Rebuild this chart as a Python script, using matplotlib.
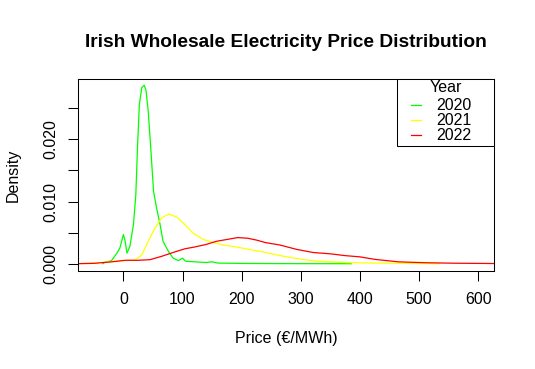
import matplotlib
matplotlib.use("Agg")
from matplotlib import pyplot as plt
from matplotlib.patches import Rectangle

plt.rcParams['font.family'] = ['Liberation Sans', 'DejaVu Sans']

# density curves
x_2020 = [-35, -31, -20, -11, -6, 0, 3, 6, 11, 17, 21, 24, 27, 31, 35, 38, 42, 47, 51, 56,
          62, 67, 76, 84, 93, 100, 105, 121, 140, 150, 160, 200, 250, 300, 385]
y_2020 = [0.0, 0.00022, 0.0005, 0.0017, 0.0025, 0.0047, 0.0036, 0.0017, 0.0028, 0.0063,
          0.0111, 0.0191, 0.0256, 0.0283, 0.0287, 0.028, 0.0245, 0.0175, 0.0116, 0.009,
          0.0063, 0.0036, 0.002, 0.0009, 0.0005, 0.0009, 0.0004, 0.0003, 0.0002, 0.0003,
          0.0001, 0.00005, 0.00002, 0.00001, 0.0]

x_2021 = [-80, -48, -14, 20, 31, 42, 53, 65, 77, 90, 104, 118, 135, 152, 170, 191, 212,
          236, 260, 282, 310, 332, 360, 388, 425, 480, 534]
y_2021 = [0.0, 0.0001, 0.0004, 0.0006, 0.0014, 0.0036, 0.0057, 0.0074, 0.008, 0.0075,
          0.0063, 0.0049, 0.0039, 0.0034, 0.003, 0.0027, 0.0023, 0.0019, 0.0014, 0.001,
          0.0006, 0.0004, 0.00025, 0.00016, 0.0001, 0.00005, 0.0]

x_2022 = [-80, -50, -20, 3, 25, 45, 65, 87, 104, 121, 140, 157, 175, 193, 210, 225, 240,
          265, 293, 321, 349, 375, 400, 425, 465, 510, 560, 630]
y_2022 = [0.0, 0.00006, 0.0003, 0.00055, 0.00055, 0.00065, 0.0012, 0.0019, 0.0024, 0.0027,
          0.0031, 0.0036, 0.0039, 0.0042, 0.0041, 0.0038, 0.0034, 0.003, 0.0023, 0.0018,
          0.0016, 0.0013, 0.0011, 0.0007, 0.0003, 0.00016, 0.00008, 0.00003]

years = ['2020', '2021', '2022']
colors = ['#00ff00', '#ffff00', '#ff0000']

x_ticks = [0, 100, 200, 300, 400, 500, 600]
y_ticks = [0.0, 0.005, 0.010, 0.015, 0.020, 0.025]
y_tick_labels = ['0.000', '', '0.010', '', '0.020', '']

fs = 11.5

fig = plt.figure(figsize=(5.35, 3.69), dpi=100)
ax = fig.add_axes([0.1464, 0.2656, 0.777, 0.5203])

lines = []
for xs, ys, c, lab in zip([x_2020, x_2021, x_2022], [y_2020, y_2021, y_2022], colors, years):
    l, = ax.plot(xs, ys, color=c, lw=0.9, label=lab)
    lines.append(l)

ax.set_xlim(-76.2, 626.5)
ax.set_ylim(-0.00117, 0.0297)

ax.set_xticks(x_ticks)
ax.set_yticks(y_ticks)
ax.set_yticklabels(y_tick_labels, rotation=90, va='center')
ax.tick_params(axis='both', direction='out', length=7.2, width=0.75, labelsize=fs, colors='black')
ax.tick_params(axis='x', pad=7.9)
ax.tick_params(axis='y', pad=7.2)
for sp in ax.spines.values():
    sp.set_linewidth(0.75)

ax.set_title('Irish Wholesale Electricity Price Distribution', fontsize=13.8,
             fontweight='bold', pad=23)
ax.set_xlabel('Price (€/MWh)', fontsize=fs)
ax.set_ylabel('Density', fontsize=fs)
ax.xaxis.set_label_coords(0.5, -0.3125)
ax.yaxis.set_label_coords(-0.138, 0.5)

# legend box in the top right corner
ax.add_patch(Rectangle((0.7676, 0.651), 0.2324, 0.349, transform=ax.transAxes,
                       facecolor='white', edgecolor='black', lw=0.75, zorder=5, clip_on=False))
ax.text(0.884, 0.934, 'Year', transform=ax.transAxes, ha='center', va='baseline',
        fontsize=fs, zorder=6)
leg = ax.legend(handles=lines, loc='upper left', bbox_to_anchor=(0.7996, 0.899),
                frameon=False, borderpad=0, borderaxespad=0, fontsize=fs,
                handlelength=0.63, handletextpad=1.0, labelspacing=0.0)
leg.set_zorder(7)

fig.savefig('out.png', dpi=100)
